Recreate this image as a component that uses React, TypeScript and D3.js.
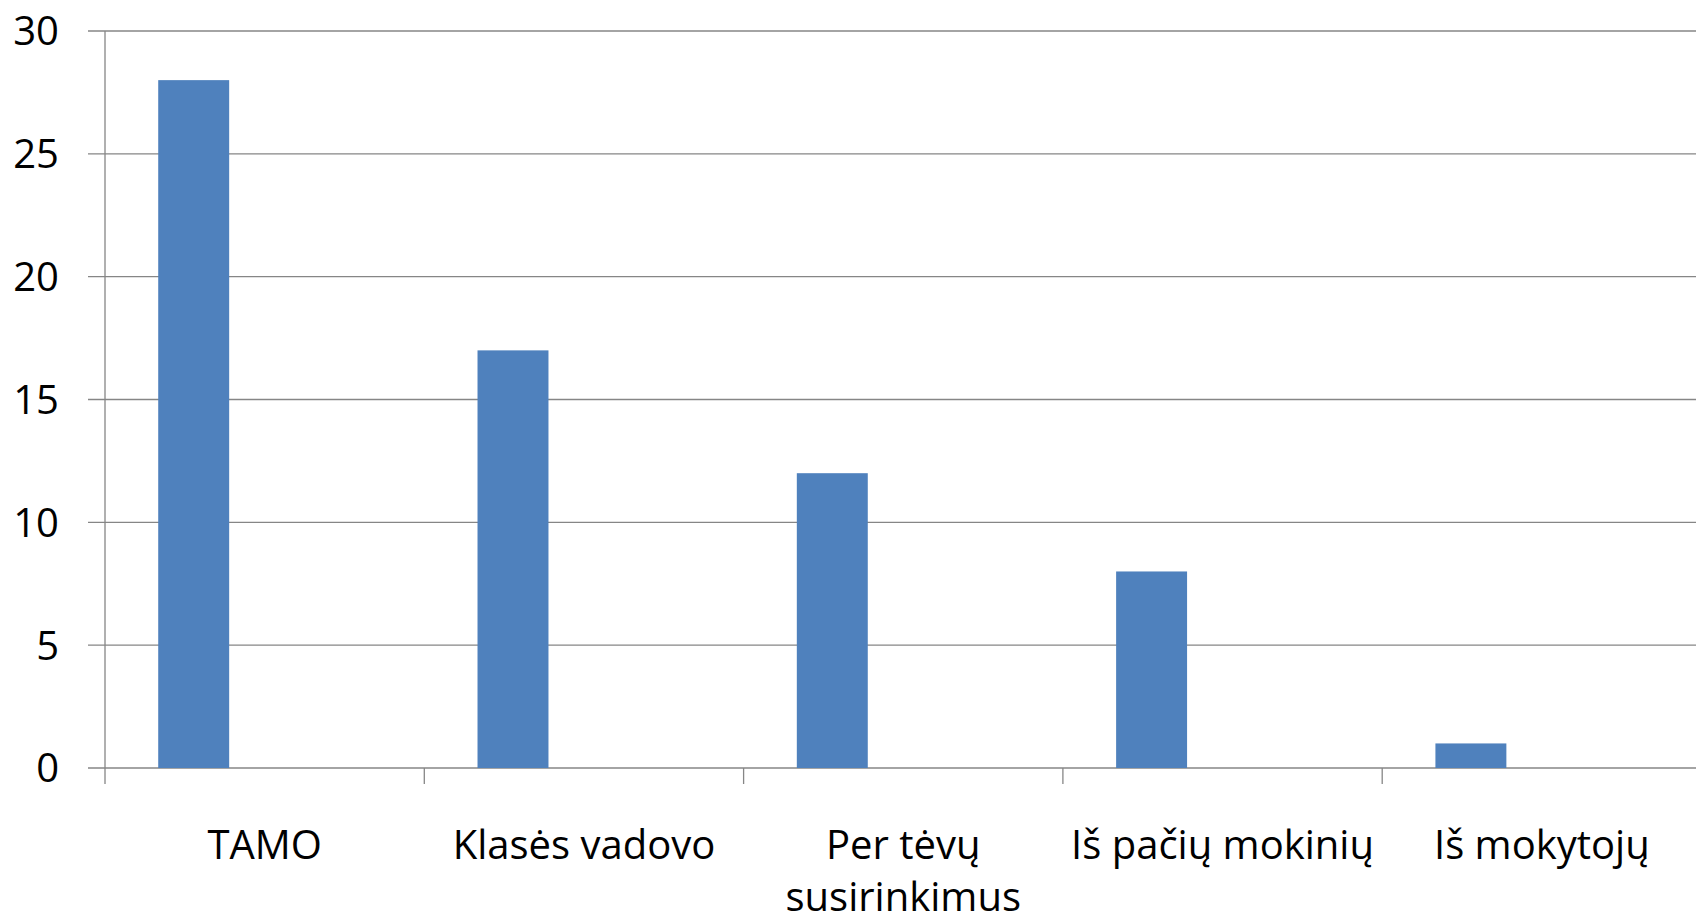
import * as d3 from 'd3';
import React from 'react';

// values
const categories = ['TAMO', 'Klasės vadovo', 'Per tėvų susirinkimus', 'Iš pačių mokinių', 'Iš mokytojų'];
const values = [28, 17, 12, 8, 1];
const labelLines = [['TAMO'], ['Klasės vadovo'], ['Per tėvų', 'susirinkimus'], ['Iš pačių mokinių'], ['Iš mokytojų']];
const yTicks = [0, 5, 10, 15, 20, 25, 30];
// chart had 3 series slots per category, only the first one filled
const seriesSlots = ['s1', 's2', 's3'];

const W = 1696;
const H = 922;
const left = 105;
const top = 31;
const bottom = 768;
const catWidth = 319.3;
const right = left + catWidth * categories.length;

const FONT = "'Open Sans', 'Noto Sans', sans-serif";
const AXIS = '#868686';

export default function App() {
  const x = d3.scaleBand<string>().domain(categories).range([left, right]);
  const inner = d3
    .scaleBand<string>()
    .domain(seriesSlots)
    .range([0, x.bandwidth()])
    .paddingInner(0)
    .paddingOuter(0.75);
  const y = d3.scaleLinear().domain([0, 30]).range([bottom, top]);

  return (
    <svg
      width={W}
      height={H}
      style={{ position: 'absolute', left: 0, top: 0, background: '#fff' }}
      fontFamily={FONT}
    >
      {/* gridlines + y labels */}
      {yTicks.map(t => (
        <g key={t}>
          <line x1={left - 17} x2={W} y1={y(t)} y2={y(t)} stroke={AXIS} strokeWidth={1.3} />
          <text x={59} y={y(t)} dy="0.36em" textAnchor="end" fontSize={40} fill="#000">
            {t}
          </text>
        </g>
      ))}
      {/* y axis */}
      <line x1={left} x2={left} y1={top} y2={bottom} stroke={AXIS} strokeWidth={1.3} />

      {/* bars */}
      {categories.map((c, i) => (
        <rect
          key={c}
          x={(x(c) as number) + (inner('s1') as number)}
          y={y(values[i])}
          width={inner.bandwidth()}
          height={y(0) - y(values[i])}
          fill="#4F81BD"
        />
      ))}

      {/* x ticks */}
      {categories.map(c => (
        <line
          key={c}
          x1={x(c)}
          x2={x(c)}
          y1={bottom}
          y2={bottom + 16}
          stroke={AXIS}
          strokeWidth={1.3}
        />
      ))}

      {/* category labels */}
      {categories.map((c, i) => (
        <text
          key={c}
          x={(x(c) as number) + x.bandwidth() / 2}
          y={859}
          textAnchor="middle"
          fontSize={40}
          fill="#000"
        >
          {labelLines[i].map((ln, j) => (
            <tspan key={j} x={(x(c) as number) + x.bandwidth() / 2} dy={j === 0 ? 0 : 52}>
              {ln}
            </tspan>
          ))}
        </text>
      ))}
    </svg>
  );
}
